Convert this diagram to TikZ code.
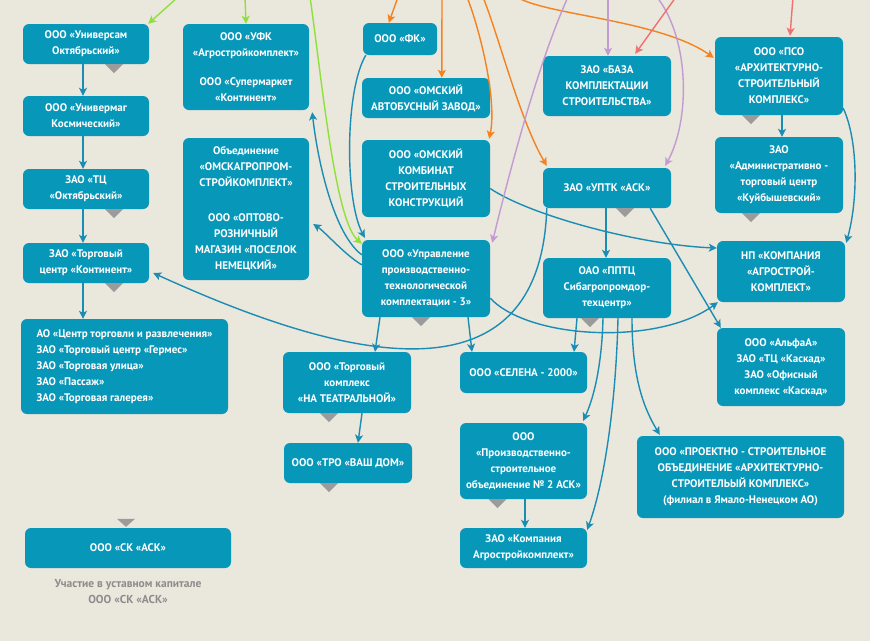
\documentclass[tikz,border=0pt]{standalone}
\usepackage{fontspec}
\setmainfont{PT Sans}
\usetikzlibrary{calc,arrows.meta}
\definecolor{bgc}{HTML}{EAE7DC}
\definecolor{boxc}{HTML}{0797B9}
\definecolor{linkc}{HTML}{1B8DB4}
\definecolor{greenc}{HTML}{8FE03A}
\definecolor{orangec}{HTML}{F5821F}
\definecolor{purplec}{HTML}{C39BD2}
\definecolor{redc}{HTML}{F2706E}
\definecolor{tipc}{HTML}{9B9B9B}
\definecolor{notec}{HTML}{8C8C8C}
\tikzset{
  firm/.style 2 args={fill=boxc, text=white, rounded corners=6pt, inner sep=0pt,
    align=center, font=\bfseries\fontsize{11}{16}\selectfont,
    minimum width=#1pt, minimum height=#2pt},
  link/.style={line width=1.4pt, -{Stealth[length=8pt,width=8pt,inset=2pt]}},
  tipmark/.style={fill=tipc},
}
\begin{document}
\begin{tikzpicture}[x=1pt,y=-1pt]
  \fill[bgc] (0,0) rectangle (870,641);
  \useasboundingbox (0,0) rectangle (870,641);

  \node[firm={126}{40}] (univ) at (86,44) {ООО «Универсам\\Октябрьский»};
  \node[firm={126}{40}] (univmag) at (86,116) {ООО «Универмаг\\Космический»};
  \node[firm={126}{40}] (tco) at (86,189) {ЗАО «ТЦ\\«Октябрьский»};
  \node[firm={126}{40}] (tck) at (86,263) {ЗАО «Торговый\\центр «Континент»};
  \node[firm={207}{95}, align=left] (list) at (124.5,366.5) {АО «Центр торговли и развлечения»\\ЗАО «Торговый центр «Гермес»\\ЗАО «Торговая улица»\\ЗАО «Пассаж»\\ЗАО «Торговая галерея»};
  \node[firm={126}{86}] (ufk) at (246,67) {ООО «УФК\\«Агростройкомплект»\\[13pt]ООО «Супермаркет\\«Континент»};
  \node[firm={126}{142}] (omsk) at (246,209) {Объединение\\«ОМСКАГРОПРОМ-\\СТРОЙКОМПЛЕКТ»\\[19pt]ООО «ОПТОВО-\\РОЗНИЧНЫЙ\\МАГАЗИН «ПОСЕЛОК\\НЕМЕЦКИЙ»};
  \node[firm={74}{32}] (fk) at (400,39) {ООО «ФК»};
  \node[firm={128}{40}] (avt) at (426,98) {ООО «ОМСКИЙ\\АВТОБУСНЫЙ ЗАВОД»};
  \node[firm={128}{77}] (komb) at (426,178.5) {ООО «ОМСКИЙ\\КОМБИНАТ\\СТРОИТЕЛЬНЫХ\\КОНСТРУКЦИЙ};
  \node[firm={128}{77}] (upr) at (426,278.5) {ООО «Управление\\производственно-\\технологической\\комплектации - 3»};
  \node[firm={128}{61}] (teatr) at (347,382.5) {ООО «Торговый\\комплекс\\«НА ТЕАТРАЛЬНОЙ»};
  \node[firm={128}{40}] (vash) at (348,463) {ООО «ТРО «ВАШ ДОМ»};
  \node[firm={128}{60}] (baza) at (607,86) {ЗАО «БАЗА\\КОМПЛЕКТАЦИИ\\СТРОИТЕЛЬСТВА»};
  \node[firm={128}{40}] (uptk) at (607,188) {ЗАО «УПТК «АСК»};
  \node[firm={128}{60}] (pptc) at (607,288) {ОАО «ППТЦ\\Сибагропромдор-\\техцентр»};
  \node[firm={127}{41}] (selena) at (523.5,372.5) {ООО «СЕЛЕНА - 2000»};
  \node[firm={127}{76}] (pso2) at (523.5,461) {ООО\\«Производственно-\\строительное\\объединение № 2 АСК»};
  \node[firm={127}{40}] (agro) at (523.5,548) {ЗАО «Компания\\Агростройкомплект»};
  \node[firm={128}{78}] (pso) at (779,76) {ООО «ПСО\\«АРХИТЕКТУРНО-\\СТРОИТЕЛЬНЫЙ\\КОМПЛЕКС»};
  \node[firm={128}{76}] (kuib) at (779,175) {ЗАО\\«Административно -\\торговый центр\\«Куйбышевский»};
  \node[firm={128}{61}] (np) at (781,271.5) {НП «КОМПАНИЯ\\«АГРОСТРОЙ-\\КОМПЛЕКТ»};
  \node[firm={128}{78}] (alfa) at (781,367) {ООО «АльфаА»\\ЗАО «ТЦ «Каскад»\\ЗАО «Офисный\\комплекс «Каскад»};
  \node[firm={207}{82}] (proekt) at (740.5,477) {ООО «ПРОЕКТНО - СТРОИТЕЛЬНОЕ\\ОБЪЕДИНЕНИЕ «АРХИТЕКТУРНО-\\СТРОИТЕЛЬЫЙ КОМПЛЕКС»\\(филиал в Ямало-Ненецком АО)};
  \node[firm={206}{40}] (sk) at (128,548) {ООО «СК «АСК»};
  \node[text=notec, align=center, font=\bfseries\fontsize{11.5}{16}\selectfont] (note) at (128,592) {Участие в уставном капитале\\ООО «СК «АСК»};

  \foreach \n/\s in {univ/28, tco/28, tck/28, upr/-5, teatr/-18, vash/-19, uptk/18, pptc/-17, kuib/-28, pso/-28, pso2/-26}
    \fill[tipmark] ([xshift=\s pt]\n.south) ++(-9,0) -- ++(18,0) -- ++(-9,9) -- cycle;
  \fill[tipmark] ([xshift=-2pt]sk.north) ++(-9,-9) -- ++(18,0) -- ++(-9,8) -- cycle;

  \coordinate (g1) at (178,-3);
  \coordinate (g2) at (245,-3);
  \coordinate (g3) at (310,-3);
  \coordinate (o1) at (398,-3);
  \coordinate (o2) at (442,-3);
  \coordinate (o3) at (467,-3);
  \coordinate (o4) at (483,-3);
  \coordinate (o5) at (517,-3);
  \coordinate (p1) at (568,-3);
  \coordinate (p2) at (608,-3);
  \coordinate (p3) at (657,-3);
  \coordinate (r1) at (676,-3);
  \coordinate (r2) at (793,-3);

  \begin{scope}[link, draw=linkc]
    \draw ([xshift=-3pt]univ.south) -- ([xshift=-3pt]univmag.north);
    \draw ([xshift=-3pt]univmag.south) -- ([xshift=-3pt]tco.north);
    \draw ([xshift=-3pt]tco.south) -- ([xshift=-3pt]tck.north);
    \draw ([xshift=-3pt]tck.south) -- ([xshift=-3pt]tck.south |- list.north);
    \draw ($(upr.north west)+(0,15)$) .. controls +(-27,-20) and +(6,53) .. ($(ufk.south east)+(3,2)$);
    \draw ($(upr.north west)+(0,25)$) .. controls +(-17,-10) and +(12,8) .. ($(omsk.east)+(4,15)$);
    \draw ($(fk.south west)+(3,0)$) .. controls +(-21,35) and +(-20,-38) .. ($(upr.north west)+(3,-2)$);
    \draw ($(uptk.south west)+(4,0)$) .. controls +(-7,212) and +(167,76) .. ($(tck.east)+(4,10)$);
    \draw ($(upr.south east)+(0,-19)$) .. controls +(40,42) and +(-58,43) .. ($(np.south west)+(1,0)$);
    \draw ([xshift=-46pt]upr.south) -- ([xshift=28pt]teatr.north);
    \draw ([xshift=42pt]upr.south) -- ([xshift=-51.5pt]selena.north);
    \draw ([xshift=15pt]teatr.south) -- ([xshift=10pt]vash.north);
    \draw ($(komb.east)+(0,10)$) .. controls +(40,27) and +(-77,-3) .. ($(np.west)+(0,-23.5)$);
    \draw ([xshift=-1pt]uptk.south) -- ([xshift=-1pt]pptc.north);
    \draw ($(uptk.south east)+(-21,0)$) -- ($(alfa.north west)+(4,0)$);
    \draw ([xshift=3pt]pso.south) -- ([xshift=3pt]kuib.north);
    \draw ($(pso.south east)+(0,-7)$) .. controls +(15,32) and +(12,-43) .. ($(np.north east)+(1,2)$);
    \draw ([xshift=-30pt]pptc.south) -- ([xshift=50.5pt]selena.north);
    \draw ([xshift=-4pt]pptc.south) .. controls +(-1,42) and +(12,-26) .. ($(pso2.north east)+(-4,-2)$);
    \draw ([xshift=11pt]pptc.south) .. controls +(-2,82) and +(18,-50) .. ($(agro.north east)+(0,2)$);
    \draw ([xshift=25pt]pptc.south) .. controls +(0,62) and +(-15,-25) .. ($(proekt.north west)+(23,-1)$);
    \draw ([xshift=1.5pt]pso2.south) -- ([xshift=1.5pt]agro.north);
  \end{scope}

  \begin{scope}[link, draw=greenc]
    \draw (g1) -- ($(univ.north east)+(-1,0)$);
    \draw (g2) -- (ufk.north);
    \draw (g3) .. controls +(12,83) and +(-27,-24) .. ($(upr.north west)+(0,4)$);
  \end{scope}

  \begin{scope}[link, draw=orangec]
    \draw (o1) -- ($(fk.north west)+(26,0)$);
    \draw (o2) -- ($(avt.north west)+(80,0)$);
    \draw (o3) .. controls +(13,33) and +(8,-39) .. ($(komb.north east)+(-1,-1)$);
    \draw (o4) .. controls +(17,43) and +(-27,-46) .. ($(uptk.north west)+(4,-2)$);
    \draw (o5) .. controls +(28,18) and +(-54,-38) .. ($(pso.north west)+(-1,21)$);
  \end{scope}

  \begin{scope}[link, draw=purplec]
    \draw (p1) .. controls +(-33,73) and +(13,-53) .. ($(upr.north east)+(2,3)$);
    \draw (p2) -- ($(baza.north)+(1,0)$);
    \draw (p3) .. controls +(33,43) and +(25,-46) .. ($(uptk.north east)+(-6,-2)$);
  \end{scope}

  \begin{scope}[link, draw=redc]
    \draw (r1) -- ($(baza.north east)+(-36,-2)$);
    \draw (r2) -- ($(pso.north)+(11,-1)$);
  \end{scope}
\end{tikzpicture}
\end{document}
